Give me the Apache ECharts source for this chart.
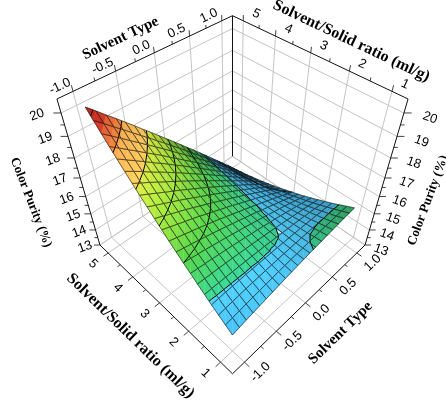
<!DOCTYPE html>
<html>
<head>
<meta charset="utf-8">
<title>Color Purity surface</title>
<script src="https://cdn.jsdelivr.net/npm/echarts@6/dist/echarts.min.js"></script>
<style>
html, body { margin: 0; padding: 0; background: #fff; }
#main { width: 446px; height: 408px; }
</style>
</head>
<body>
<div id="main"></div>
<script>
// ---- data ----
var solventType = [-1.0, -0.9, -0.8, -0.7, -0.6, -0.5, -0.4, -0.3, -0.2, -0.1, 0.0,
                   0.1, 0.2, 0.3, 0.4, 0.5, 0.6, 0.7, 0.8, 0.9, 1.0];
var solidRatio = [1.0, 1.2, 1.4, 1.6, 1.8, 2.0, 2.2, 2.4, 2.6, 2.8, 3.0,
                  3.2, 3.4, 3.6, 3.8, 4.0, 4.2, 4.4, 4.6, 4.8, 5.0];
// colorPurity[j][i] : ratio solidRatio[j], solvent type solventType[i]
var colorPurity = [
  [14.15,14.23,14.31,14.38,14.45,14.52,14.59,14.66,14.73,14.79,14.85,14.91,14.97,15.02,15.07,15.12,15.17,15.22,15.27,15.31,15.35],
  [14.40,14.46,14.51,14.57,14.62,14.67,14.71,14.76,14.80,14.85,14.89,14.92,14.96,14.99,15.03,15.06,15.08,15.11,15.13,15.16,15.18],
  [14.65,14.69,14.72,14.76,14.79,14.82,14.84,14.87,14.89,14.91,14.93,14.95,14.96,14.97,14.98,14.99,15.00,15.00,15.01,15.01,15.01],
  [14.91,14.93,14.94,14.95,14.96,14.97,14.97,14.98,14.98,14.98,14.98,14.97,14.97,14.96,14.95,14.94,14.92,14.91,14.89,14.87,14.84],
  [15.18,15.17,15.16,15.15,15.14,15.13,15.11,15.10,15.08,15.06,15.03,15.01,14.98,14.95,14.92,14.89,14.85,14.81,14.77,14.73,14.69],
  [15.45,15.42,15.39,15.36,15.33,15.30,15.26,15.22,15.18,15.14,15.09,15.05,15.00,14.95,14.89,14.84,14.78,14.73,14.66,14.60,14.54],
  [15.73,15.68,15.63,15.58,15.52,15.47,15.41,15.35,15.29,15.22,15.16,15.09,15.02,14.95,14.88,14.80,14.72,14.64,14.56,14.48,14.39],
  [16.01,15.94,15.87,15.80,15.72,15.65,15.57,15.49,15.40,15.32,15.23,15.14,15.05,14.96,14.86,14.77,14.67,14.57,14.47,14.36,14.25],
  [16.30,16.21,16.12,16.02,15.93,15.83,15.73,15.63,15.52,15.42,15.31,15.20,15.09,14.97,14.86,14.74,14.62,14.50,14.38,14.25,14.12],
  [16.59,16.48,16.37,16.25,16.14,16.02,15.90,15.78,15.65,15.52,15.39,15.26,15.13,15.00,14.86,14.72,14.58,14.44,14.29,14.14,14.00],
  [16.90,16.76,16.63,16.49,16.36,16.22,16.07,15.93,15.78,15.64,15.49,15.33,15.18,15.02,14.87,14.71,14.54,14.38,14.21,14.05,13.88],
  [17.20,17.05,16.89,16.74,16.58,16.42,16.25,16.09,15.92,15.75,15.58,15.41,15.23,15.06,14.88,14.70,14.51,14.33,14.14,13.95,13.76],
  [17.52,17.34,17.17,16.99,16.81,16.63,16.44,16.25,16.07,15.88,15.68,15.49,15.29,15.10,14.90,14.69,14.49,14.28,14.07,13.86,13.65],
  [17.84,17.64,17.44,17.24,17.04,16.84,16.63,16.43,16.22,16.01,15.79,15.58,15.36,15.14,14.92,14.70,14.47,14.24,14.01,13.78,13.55],
  [18.16,17.94,17.73,17.51,17.28,17.06,16.83,16.60,16.37,16.14,15.91,15.67,15.43,15.19,14.95,14.71,14.46,14.21,13.96,13.71,13.45],
  [18.49,18.26,18.02,17.77,17.53,17.29,17.04,16.79,16.54,16.28,16.03,15.77,15.51,15.25,14.99,14.72,14.45,14.18,13.91,13.64,13.36],
  [18.83,18.57,18.31,18.05,17.78,17.52,17.25,16.98,16.71,16.43,16.15,15.88,15.59,15.31,15.03,14.74,14.45,14.16,13.87,13.57,13.28],
  [19.17,18.89,18.61,18.33,18.04,17.76,17.47,17.17,16.88,16.58,16.29,15.99,15.69,15.38,15.08,14.77,14.46,14.15,13.83,13.52,13.20],
  [19.52,19.22,18.92,18.61,18.31,18.00,17.69,17.38,17.06,16.74,16.43,16.10,15.78,15.46,15.13,14.80,14.47,14.14,13.80,13.47,13.13],
  [19.88,19.56,19.23,18.91,18.58,18.25,17.92,17.58,17.25,16.91,16.57,16.23,15.88,15.54,15.19,14.84,14.49,14.13,13.78,13.42,13.06],
  [20.24,19.90,19.55,19.21,18.86,18.51,18.15,17.80,17.44,17.08,16.72,16.36,15.99,15.63,15.26,14.89,14.51,14.14,13.76,13.38,13.00]
];
var solventTicks = [-1.0, -0.5, 0.0, 0.5, 1.0];
var solventTickLabels = ['-1.0', '-0.5', '0.0', '0.5', '1.0'];
var ratioTicks = [1, 2, 3, 4, 5];
var ratioTickLabels = ['1', '2', '3', '4', '5'];
var purityTicks = [13, 14, 15, 16, 17, 18, 19, 20];
var purityTickLabels = ['13', '14', '15', '16', '17', '18', '19', '20'];
var contourLevels = [14, 15, 16, 17, 18, 19, 20];
// colour ramp: [purity, colour]; the step at 15 separates blue from green
var colorStops = [
    [13.0, '#2f7cc8'], [14.0, '#40b2ee'], [14.999, '#4cc4f0'],
    [15.0, '#36c98e'], [16.0, '#50c848'], [17.0, '#96d83a'], [17.9, '#c8e040'],
    [18.1, '#f2c458'], [18.9, '#f0aa50'], [19.1, '#e8803c'], [19.5, '#dc5a34'],
    [19.7, '#c83424'], [20.3, '#b01c14']
];

// ---- axis box + camera ----
var BOX = { sMin: -1.176, sMax: 1.176, rMin: 0.647, rMax: 5.353, zMin: 13, zMax: 20.56 };
var CAM = { cx: 232.5, cy: 182.2, f: 510.5, dist: 4.78, cosE: 0.7087, sinE: 0.7056, halfZ: 0.946 };
var H = CAM.halfZ;

function uOf(s) { return -1 + 2 * (s - BOX.sMin) / (BOX.sMax - BOX.sMin); }
function vOf(r) { return -1 + 2 * (r - BOX.rMin) / (BOX.rMax - BOX.rMin); }
function wOf(z) { return H * (-1 + 2 * (z - BOX.zMin) / (BOX.zMax - BOX.zMin)); }
function toBox(p) { return [uOf(p[0]), vOf(p[1]), wOf(p[2])]; }

// perspective view, 45 deg azimuth
function project(q) {
    var a = (q[0] - q[1]) / Math.SQRT2, b = (q[0] + q[1]) / Math.SQRT2;
    var yc = q[2] * CAM.cosE + b * CAM.sinE;
    var zc = CAM.dist + b * CAM.cosE - q[2] * CAM.sinE;
    return [CAM.cx + CAM.f * a / zc, CAM.cy - CAM.f * yc / zc, zc];
}

// ---- frame: walls grid, edges, ticks ----
var frameLines = [];
function addLine(p1, p2, kind) { frameLines.push({ p1: p1, p2: p2, kind: kind }); }

solventTicks.forEach(function (s) {
    var u = uOf(s);
    addLine([u, 1, -H], [u, 1, H], 'grid');
    addLine([u, -1, -H], [u, 1, -H], 'grid');
});
ratioTicks.forEach(function (r) {
    var v = vOf(r);
    addLine([1, v, -H], [1, v, H], 'grid');
    addLine([-1, v, -H], [1, v, -H], 'grid');
});
purityTicks.forEach(function (z) {
    var w = wOf(z);
    addLine([-1, 1, w], [1, 1, w], 'grid');
    addLine([1, -1, w], [1, 1, w], 'grid');
});
addLine([-1, 1, -H], [1, 1, -H], 'grid');
addLine([1, 1, -H], [1, -1, -H], 'grid');

addLine([-1, 1, H], [1, 1, H], 'edge');
addLine([1, 1, H], [1, -1, H], 'edge');
addLine([1, 1, -H], [1, 1, H], 'edge');
addLine([-1, 1, -H], [-1, 1, H], 'edge');
addLine([1, -1, -H], [1, -1, H], 'edge');
addLine([-1, 1, -H], [-1, -1, -H], 'edge');
addLine([-1, -1, -H], [1, -1, -H], 'edge');

for (var ts = -1.0; ts <= 1.001; ts += 0.25) {
    var major = Math.abs(ts * 2 - Math.round(ts * 2)) < 1e-6;
    var len = major ? 0.06 : 0.035;
    var u = uOf(ts);
    addLine([u, 1, H], [u, 1, H + len], 'tick');
    addLine([u, -1, -H], [u, -1 - len, -H], 'tick');
}
for (var tr = 1.0; tr <= 5.001; tr += 0.5) {
    var majorR = Math.abs(tr - Math.round(tr)) < 1e-6;
    var lenR = majorR ? 0.06 : 0.035;
    var v = vOf(tr);
    addLine([1, v, H], [1, v, H + lenR], 'tick');
    addLine([-1, v, -H], [-1 - lenR, v, -H], 'tick');
}
for (var tz = 13; tz <= 20.001; tz += 0.5) {
    var majorZ = Math.abs(tz - Math.round(tz)) < 1e-6;
    var d = majorZ ? 0.045 : 0.025;
    var w = wOf(tz);
    addLine([-1, 1, w], [-1 - d, 1 + d, w], 'tick');
    addLine([1, -1, w], [1 + d, -1 - d, w], 'tick');
}

// ---- surface cells, split at the contour levels ----
var LV_EPS = 1e-4;
function clipPoly(poly, lv, keepAbove) {
    var out = [];
    for (var i = 0; i < poly.length; i++) {
        var A = poly[i], B = poly[(i + 1) % poly.length];
        var inA = keepAbove ? A[2] >= lv : A[2] <= lv;
        var inB = keepAbove ? B[2] >= lv : B[2] <= lv;
        if (inA) out.push(A);
        if (inA !== inB) {
            var t = (lv - A[2]) / (B[2] - A[2]);
            out.push([A[0] + t * (B[0] - A[0]), A[1] + t * (B[1] - A[1]), lv]);
        }
    }
    return out;
}
function contourSegs(tri) {
    var segs = [];
    contourLevels.forEach(function (L) {
        var lv = L + LV_EPS, pts = [];
        for (var i = 0; i < 3; i++) {
            var A = tri[i], B = tri[(i + 1) % 3];
            if ((A[2] - lv) * (B[2] - lv) < 0) {
                var t = (lv - A[2]) / (B[2] - A[2]);
                pts.push([A[0] + t * (B[0] - A[0]), A[1] + t * (B[1] - A[1]), lv]);
            }
        }
        if (pts.length === 2) segs.push(pts);
    });
    return segs;
}
function hexRgb(hex) {
    var n = parseInt(hex.slice(1), 16);
    return [(n >> 16) & 255, (n >> 8) & 255, n & 255];
}
function rampColor(z, k) {
    var c;
    if (z <= colorStops[0][0]) c = hexRgb(colorStops[0][1]);
    else if (z >= colorStops[colorStops.length - 1][0]) c = hexRgb(colorStops[colorStops.length - 1][1]);
    else {
        for (var n = 0; n < colorStops.length - 1; n++) {
            var s0 = colorStops[n], s1 = colorStops[n + 1];
            if (z >= s0[0] && z <= s1[0]) {
                var t = (z - s0[0]) / (s1[0] - s0[0]);
                var c0 = hexRgb(s0[1]), c1 = hexRgb(s1[1]);
                c = [c0[0] + t * (c1[0] - c0[0]), c0[1] + t * (c1[1] - c0[1]), c0[2] + t * (c1[2] - c0[2])];
                break;
            }
        }
    }
    return 'rgb(' + Math.min(255, Math.round(c[0] * k)) + ',' + Math.min(255, Math.round(c[1] * k)) + ',' +
        Math.min(255, Math.round(c[2] * k)) + ')';
}

var lightDir = [0, -0.7071, 0.7071];
var viewDir = [-CAM.cosE / Math.SQRT2, -CAM.cosE / Math.SQRT2, CAM.sinE];
var cells = [];
for (var j = 0; j < solidRatio.length - 1; j++) {
    for (var i = 0; i < solventType.length - 1; i++) {
        var p00 = [solventType[i], solidRatio[j], colorPurity[j][i]];
        var p10 = [solventType[i + 1], solidRatio[j], colorPurity[j][i + 1]];
        var p11 = [solventType[i + 1], solidRatio[j + 1], colorPurity[j + 1][i + 1]];
        var p01 = [solventType[i], solidRatio[j + 1], colorPurity[j + 1][i]];
        var b00 = toBox(p00), b10 = toBox(p10), b11 = toBox(p11), b01 = toBox(p01);
        var d1 = [b11[0] - b00[0], b11[1] - b00[1], b11[2] - b00[2]];
        var d2 = [b01[0] - b10[0], b01[1] - b10[1], b01[2] - b10[2]];
        var nrm = [d1[1] * d2[2] - d1[2] * d2[1], d1[2] * d2[0] - d1[0] * d2[2], d1[0] * d2[1] - d1[1] * d2[0]];
        var nl = Math.sqrt(nrm[0] * nrm[0] + nrm[1] * nrm[1] + nrm[2] * nrm[2]);
        if (nrm[2] < 0) nl = -nl;
        var dot = (nrm[0] * lightDir[0] + nrm[1] * lightDir[1] + nrm[2] * lightDir[2]) / nl;
        var vdot = (nrm[0] * viewDir[0] + nrm[1] * viewDir[1] + nrm[2] * viewDir[2]) / nl;
        var k = Math.max(0.6, Math.min(1.08, 0.62 + 0.5 * dot));
        k *= 0.45 + 0.55 * Math.min(1, Math.max(0, vdot) / 0.35);
        var pieces = [], segs = [];
        [[p00, p10, p11], [p00, p11, p01]].forEach(function (tri) {
            for (var bi = 0; bi <= contourLevels.length; bi++) {
                var poly = tri;
                if (bi > 0) poly = clipPoly(poly, contourLevels[bi - 1] + LV_EPS, true);
                if (poly.length >= 3 && bi < contourLevels.length) poly = clipPoly(poly, contourLevels[bi] + LV_EPS, false);
                if (poly.length >= 3) {
                    var zm = 0;
                    poly.forEach(function (p) { zm += p[2]; });
                    pieces.push({ pts: poly, color: rampColor(zm / poly.length, k) });
                }
            }
            segs = segs.concat(contourSegs(tri));
        });
        var mid = project(toBox([(p00[0] + p11[0]) / 2, (p00[1] + p11[1]) / 2,
            (p00[2] + p10[2] + p11[2] + p01[2]) / 4]));
        cells.push({ corners: [p00, p10, p11, p01], pieces: pieces, segs: segs, depth: mid[2] });
    }
}
cells.sort(function (a, b) { return b.depth - a.depth; });

// ---- labels ----
var labels = [];
var tickFont = '13px "Liberation Sans", Arial, sans-serif';
var titleFont = 'bold 15px "Liberation Serif", "Times New Roman", serif';
var ratioTitleFont = 'bold 16px "Liberation Serif", "Times New Roman", serif';
var titleFontZ = 'bold 13px "Liberation Serif", "Times New Roman", serif';
function edgeRot(q1, q2) {
    var a = project(q1), b = project(q2);
    return -Math.atan2(b[1] - a[1], b[0] - a[0]);
}
var rotTL = edgeRot([-1, 1, H], [1, 1, H]);
var rotTR = edgeRot([1, 1, H], [1, -1, H]);
var rotBL = edgeRot([-1, 1, -H], [-1, -1, -H]);
var rotBR = edgeRot([-1, -1, -H], [1, -1, -H]);

solventTicks.forEach(function (s, n) {
    labels.push({ text: solventTickLabels[n], at: [uOf(s), 1, H], dx: -13, dy: -5, rot: rotTL, font: tickFont });
    labels.push({ text: solventTickLabels[n], at: [uOf(s), -1, -H], dx: 16, dy: 10, rot: rotBR, font: tickFont });
});
ratioTicks.forEach(function (r, n) {
    labels.push({ text: ratioTickLabels[n], at: [1, vOf(r), H], dx: 13, dy: -7, rot: rotTR, font: tickFont });
    labels.push({ text: ratioTickLabels[n], at: [-1, vOf(r), -H], dx: -15, dy: 11, rot: rotBL, font: tickFont });
});
purityTicks.forEach(function (z, n) {
    var t = (z - 13) / 7;
    labels.push({ text: purityTickLabels[n], at: [-1, 1, wOf(z)], dx: -(15 + 9 * t), dy: 2, rot: 0.35, font: tickFont });
    labels.push({ text: purityTickLabels[n], at: [1, -1, wOf(z)], dx: 16 + 10 * t, dy: 5, rot: -0.35, font: tickFont });
});
labels.push({ text: 'Solvent Type', at: [uOf(-0.4), 1, H], dx: -3, dy: -29, rot: rotTL, font: titleFont });
labels.push({ text: 'Solvent/Solid ratio (ml/g)', at: [1, vOf(2), H], dx: 2, dy: -30, rot: rotTR, font: ratioTitleFont });
labels.push({ text: 'Solvent/Solid ratio (ml/g)', at: [-1, vOf(3), -H], dx: -29, dy: 33, rot: rotBL, font: ratioTitleFont });
labels.push({ text: 'Solvent Type', at: [uOf(0), -1, -H], dx: 35, dy: 30, rot: rotBR, font: titleFont });
labels.push({ text: 'Color Purity (%)', at: [-1, 1, wOf(16.5)], dx: -52, dy: 15, rot: -1.2, font: titleFontZ });
labels.push({ text: 'Color Purity (%)', at: [1, -1, wOf(16.5)], dx: 46, dy: 13, rot: 1.215, font: titleFontZ });

// ---- render ----
function renderFrame(params, api) {
    var ln = frameLines[api.value(0)];
    var a = project(ln.p1), b = project(ln.p2);
    var pa = api.coord([a[0], a[1]]), pb = api.coord([b[0], b[1]]);
    var style = ln.kind === 'grid' ? { stroke: '#c4c4c4', lineWidth: 1 }
        : { stroke: '#111', lineWidth: ln.kind === 'edge' ? 1 : 0.8 };
    return { type: 'line', shape: { x1: pa[0], y1: pa[1], x2: pb[0], y2: pb[1] }, style: style };
}
function renderCell(params, api) {
    var c = cells[api.value(0)];
    function px(p) { var q = project(toBox(p)); return api.coord([q[0], q[1]]); }
    var children = [];
    c.pieces.forEach(function (pc) {
        children.push({ type: 'polygon', shape: { points: pc.pts.map(px) },
            style: { fill: pc.color, stroke: pc.color, lineWidth: 0.4 } });
    });
    c.segs.forEach(function (sg) {
        var a = px(sg[0]), b = px(sg[1]);
        children.push({ type: 'line', shape: { x1: a[0], y1: a[1], x2: b[0], y2: b[1] },
            style: { stroke: '#000', lineWidth: 1 } });
    });
    children.push({ type: 'polygon', shape: { points: c.corners.map(px) },
        style: { fill: 'none', stroke: 'rgba(15,15,15,0.85)', lineWidth: 0.7 } });
    return { type: 'group', children: children };
}
function renderLabel(params, api) {
    var lb = labels[api.value(0)];
    var p = project(lb.at), q = api.coord([p[0], p[1]]);
    return { type: 'text', x: q[0] + lb.dx, y: q[1] + lb.dy, rotation: lb.rot,
        style: { text: lb.text, font: lb.font, fill: '#000', align: 'center', verticalAlign: 'middle' } };
}
function indexData(arr) { return arr.map(function (d, n) { return [n, 0]; }); }

var myChart = echarts.init(document.getElementById('main'));
var option = {
    animation: false,
    grid: { left: 0, right: 0, top: 0, bottom: 0 },
    xAxis: { type: 'value', min: 0, max: 446, show: false },
    yAxis: { type: 'value', min: 0, max: 408, inverse: true, show: false },
    series: [
        { type: 'custom', renderItem: renderFrame, data: indexData(frameLines), silent: true, clip: false, z: 1 },
        { type: 'custom', renderItem: renderCell, data: indexData(cells), silent: true, clip: false, z: 2 },
        { type: 'custom', renderItem: renderLabel, data: indexData(labels), silent: true, clip: false, z: 3 }
    ]
};
myChart.setOption(option);
window.onresize = function () {
    myChart.resize();
};
</script>
</body>
</html>
